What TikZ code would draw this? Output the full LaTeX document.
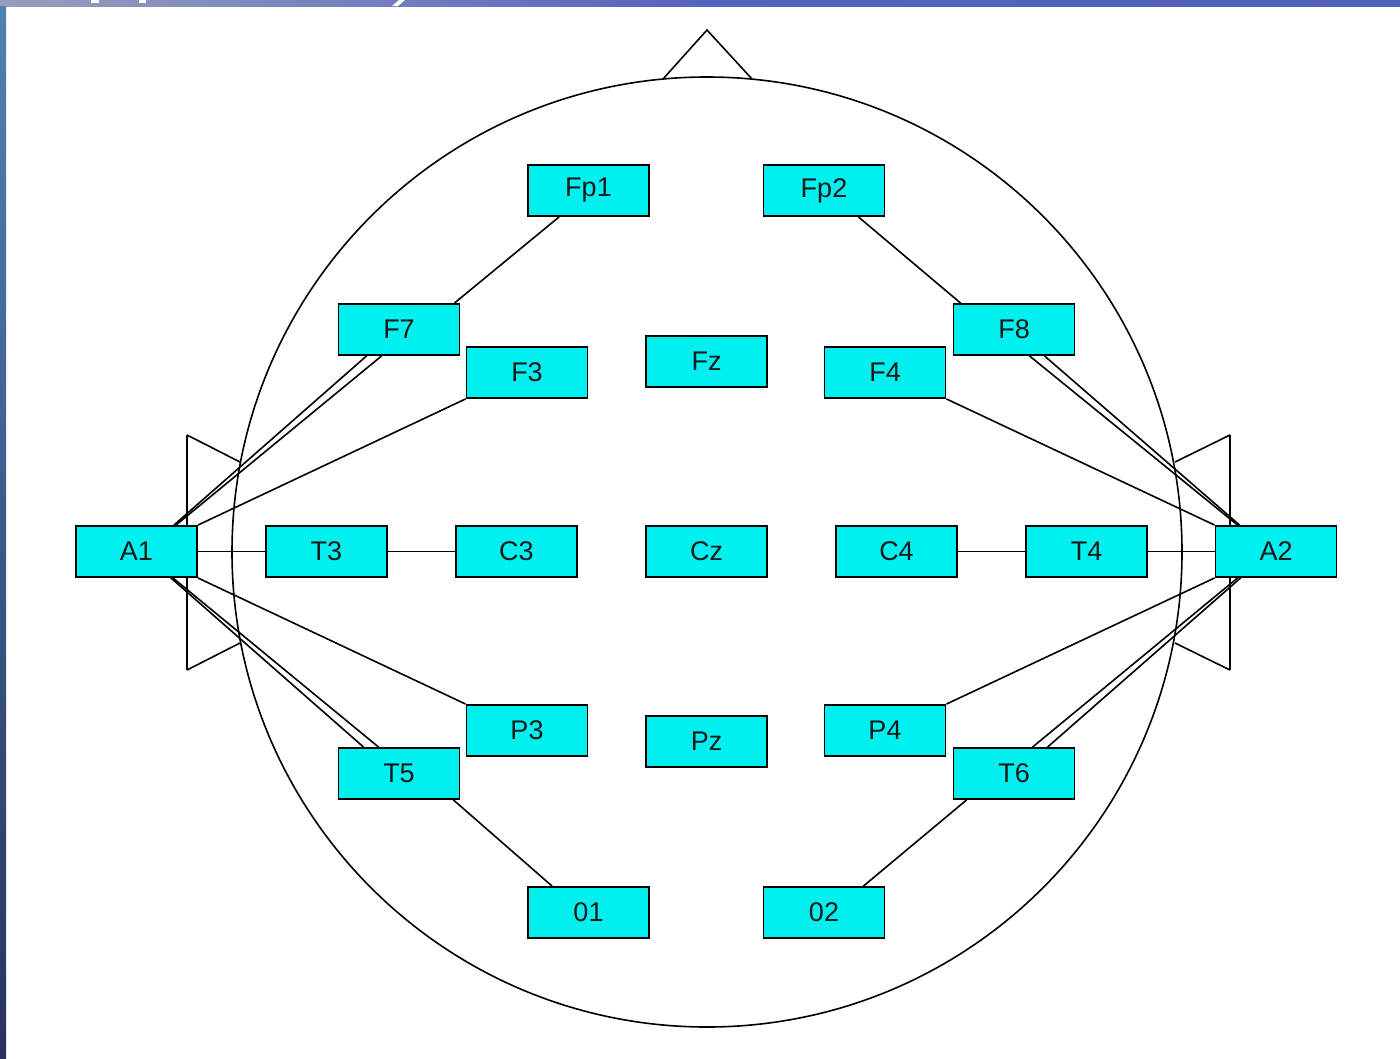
\documentclass[tikz,border=0pt]{standalone}
\usepackage{fontspec}
\setmainfont{Liberation Sans}
\definecolor{boxcyan}{RGB}{0,240,240}
\definecolor{slideA}{RGB}{150,158,190}
\definecolor{slideB}{RGB}{85,100,190}
\definecolor{slideC}{RGB}{80,96,180}
\definecolor{sideTop}{RGB}{80,130,180}
\definecolor{sideBot}{RGB}{40,50,95}
\begin{document}
\begin{tikzpicture}[x=1pt,y=-1pt,
  electrode/.style={draw=black,line width=1.9pt,fill=boxcyan,minimum width=121pt,minimum height=51pt,inner sep=0pt,text=black!90,font=\fontsize{27}{30}\selectfont},
  headline/.style={draw=black,line width=1.6pt},
  wire/.style={draw=black,line width=1.6pt}]
\useasboundingbox (0,0) rectangle (1400,1058);
\fill[white] (0,0) rectangle (1400,1058);
% slide edges
\shade[left color=slideA,right color=slideC,middle color=slideB] (0,0) rectangle (1400,6);
\shade[top color=sideTop,bottom color=sideBot] (0,6) rectangle (6,1058);
\fill[white] (91,0) rectangle (99,3);
\fill[white] (139,0) rectangle (146,3);
\fill[white] (399,0) -- (405,0) -- (398,6) -- (392,6) -- cycle;
% head
\draw[headline] (707,552) circle[radius=475];
\draw[headline] (663,79) -- (707,30) -- (752,79);
% ears
\draw[headline] (187,435) -- (187,670);
\draw[headline] (187,435) -- (240,462);
\draw[headline] (187,670) -- (240,643);
\draw[headline] (1230,435) -- (1230,670);
\draw[headline] (1230,435) -- (1175,462);
\draw[headline] (1230,670) -- (1175,643);
% electrodes
\node[electrode] (Fp1) at (588.5,190.5) {Fp1};
\node[electrode] (Fp2) at (824,190.5) {Fp2};
\node[electrode] (F7) at (399,329.5) {F7};
\node[electrode] (F3) at (527,372.5) {F3};
\node[electrode] (Fz) at (706.5,361.5) {Fz};
\node[electrode] (F4) at (885,372.5) {F4};
\node[electrode] (F8) at (1014,329.5) {F8};
\node[electrode] (A1) at (136.5,551.5) {A1};
\node[electrode] (T3) at (326.5,551.5) {T3};
\node[electrode] (C3) at (516.5,551.5) {C3};
\node[electrode] (Cz) at (706.5,551.5) {Cz};
\node[electrode] (C4) at (896.5,551.5) {C4};
\node[electrode] (T4) at (1086.5,551.5) {T4};
\node[electrode] (A2) at (1276,551.5) {A2};
\node[electrode] (P3) at (527,730.5) {P3};
\node[electrode] (Pz) at (706.5,741.5) {Pz};
\node[electrode] (P4) at (885,730.5) {P4};
\node[electrode] (T5) at (399,773.5) {T5};
\node[electrode] (T6) at (1014,773.5) {T6};
\node[electrode] (O1) at (588.5,912.5) {01};
\node[electrode] (O2) at (824,912.5) {02};
% connectors
\draw[wire] ([xshift=32pt]Fp1.south west) -- ([xshift=-6pt]F7.north east);
\draw[wire] ([xshift=-27pt]Fp2.south east) -- ([xshift=8pt]F8.north west);
\draw[wire] ([xshift=-7pt]T5.south east) -- ([xshift=25pt]O1.north west);
\draw[wire] ([xshift=14pt]T6.south west) -- ([xshift=-22pt]O2.north east);
\draw[wire] (A1.east) -- (T3.west);
\draw[wire] (T3.east) -- (C3.west);
\draw[wire] (C4.east) -- (T4.west);
\draw[wire] (T4.east) -- (A2.west);
% left fan
\draw[wire] ([xshift=29pt]F7.south west) -- ([xshift=-24pt]A1.north east);
\draw[wire] ([xshift=44pt]F7.south west) -- ([xshift=-22pt]A1.north east);
\draw[wire] (F3.south west) -- (A1.north east);
\draw[wire] (P3.north west) -- (A1.south east);
\draw[wire] ([xshift=26pt]T5.north west) -- ([xshift=-27pt]A1.south east);
\draw[wire] ([xshift=41pt]T5.north west) -- ([xshift=-25pt]A1.south east);
% right fan
\draw[wire] ([xshift=77pt]F8.south west) -- ([xshift=23pt]A2.north west);
\draw[wire] ([xshift=92pt]F8.south west) -- ([xshift=25pt]A2.north west);
\draw[wire] (F4.south east) -- (A2.north west);
\draw[wire] (P4.north east) -- (A2.south west);
\draw[wire] ([xshift=80pt]T6.north west) -- ([xshift=23pt]A2.south west);
\draw[wire] ([xshift=95pt]T6.north west) -- ([xshift=26pt]A2.south west);
\end{tikzpicture}
\end{document}
